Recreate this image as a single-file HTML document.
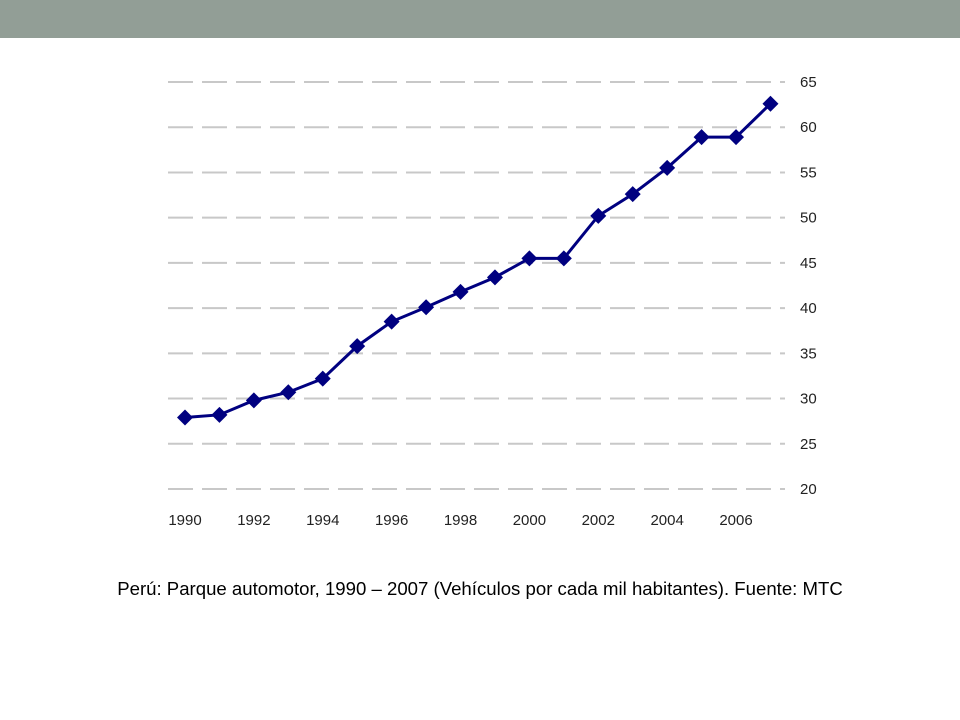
<!DOCTYPE html>
<html><head><meta charset="utf-8"><style>
body{margin:0;width:960px;height:720px;background:#fff;overflow:hidden;font-family:"Liberation Sans",sans-serif}
#bar{position:absolute;left:0;top:0;width:960px;height:38px;background:#929e96}
#cap{position:absolute;left:0;width:960px;top:578px;text-align:center;font-size:18.6px;color:#000;white-space:nowrap}
</style></head><body>
<div id="bar"></div>
<svg id="chart" width="960" height="720" style="position:absolute;left:0;top:0"></svg>
<div id="cap">Perú: Parque automotor, 1990 – 2007 (Vehículos por cada mil habitantes). Fuente: MTC</div>
<script>
const years=[1990,1991,1992,1993,1994,1995,1996,1997,1998,1999,2000,2001,2002,2003,2004,2005,2006,2007];
const values=[27.9,28.2,29.8,30.7,32.2,35.8,38.5,40.1,41.8,43.4,45.5,45.5,50.2,52.6,55.5,58.9,58.9,62.6];
const yTicks=[20,25,30,35,40,45,50,55,60,65];
const xTicks=[1990,1992,1994,1996,1998,2000,2002,2004,2006];
const NS="http://www.w3.org/2000/svg";
const svg=document.getElementById('chart');
const x=v=>185+(v-1990)*34.44;
const y=v=>489-(v-20)*(407/45);
function mk(t,a){const e=document.createElementNS(NS,t);for(const k in a)e.setAttribute(k,a[k]);svg.appendChild(e);return e;}
yTicks.forEach(t=>{
 const l=mk('line',{x1:168,x2:785,y1:y(t),y2:y(t),stroke:'#c8c8c8','stroke-width':2,'stroke-dasharray':'25 9'});
 
 
 const tx=mk('text',{x:800,y:y(t)+5,'font-size':15,fill:'#222','font-family':'Liberation Sans, sans-serif'});
 tx.textContent=t;
 
 
});
xTicks.forEach(t=>{
 const tx=mk('text',{x:x(t),y:525,'font-size':15,fill:'#222','text-anchor':'middle','font-family':'Liberation Sans, sans-serif'});
 tx.textContent=t;
 
 
});
const p=mk('polyline',{points:years.map((yr,i)=>x(yr)+','+y(values[i])).join(' '),fill:'none',stroke:'#000080','stroke-width':3});


years.forEach((yr,i)=>{
 const cx=x(yr),cy=y(values[i]),r=8;
 const d=mk('polygon',{points:`${cx},${cy-r} ${cx+r},${cy} ${cx},${cy+r} ${cx-r},${cy}`,fill:'#000080'});
 
 
});
</script>
</body></html>
